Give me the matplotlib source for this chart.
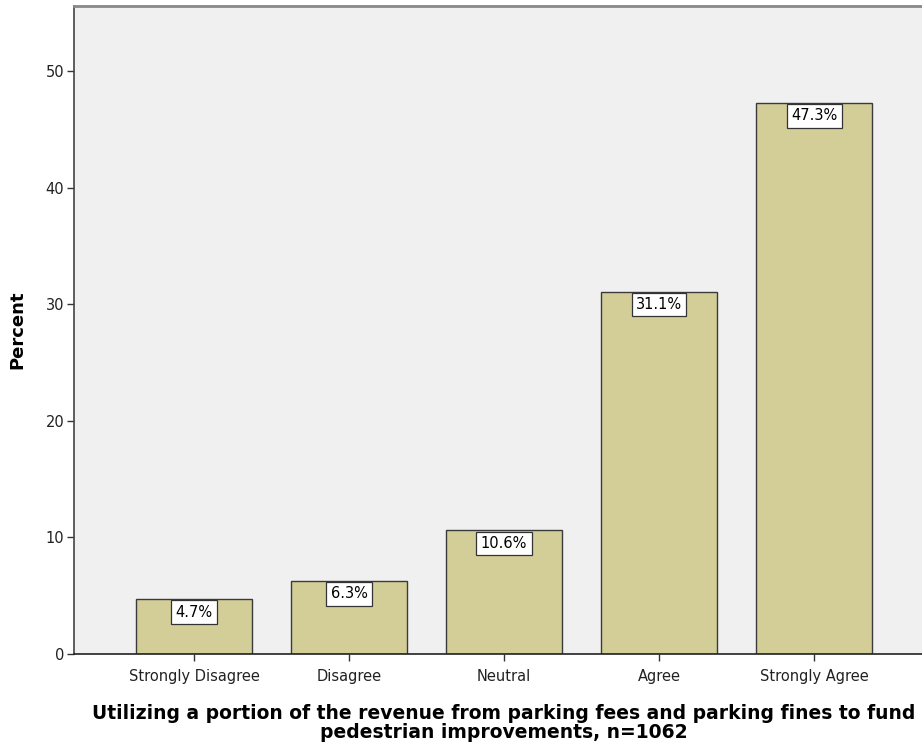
import matplotlib
matplotlib.use("Agg")
import matplotlib.pyplot as plt

categories = ["Strongly Disagree", "Disagree", "Neutral", "Agree", "Strongly Agree"]
percents = [4.7, 6.3, 10.6, 31.1, 47.3]
yticks = [0, 10, 20, 30, 40, 50]

W, H = 922, 751
fig = plt.figure(figsize=(W / 100, H / 100), dpi=100)
left, right, top, bottom = 74, 934, 6, 654
ax = fig.add_axes([left / W, 1 - bottom / H, (right - left) / W, (bottom - top) / H])
ax.set_facecolor("#f0f0f0")

x = list(range(len(categories)))
ax.bar(x, percents, width=0.75, color="#d3ce97", edgecolor="#3a3a3a", linewidth=1.0, zorder=2)

for xi, v in zip(x, percents):
    ax.annotate(f"{v}%", xy=(xi, v), xytext=(0, -4), textcoords="offset points",
                ha="center", va="top", fontsize=10.5, color="black", zorder=3,
                bbox=dict(boxstyle="square,pad=0.3", facecolor="white", edgecolor="#333333", linewidth=0.9))

ax.set_xlim(-0.774, 4.774)
ax.set_ylim(0, 55.6)
ax.set_yticks(yticks)
ax.set_xticks(x)
ax.set_xticklabels(categories, fontsize=10.5, color="#222222")
ax.tick_params(axis="y", labelsize=10.5, length=5, width=1, direction="out", pad=2, color="#333333", labelcolor="#222222")
ax.tick_params(axis="x", length=5, width=1, direction="out", pad=6, color="#333333")

ax.spines["right"].set_visible(False)
ax.spines["top"].set_color("#888888")
ax.spines["top"].set_linewidth(2)
ax.spines["left"].set_color("#444444")
ax.spines["left"].set_linewidth(1.2)
ax.spines["bottom"].set_color("#222222")
ax.spines["bottom"].set_linewidth(1.2)

ax.set_ylabel("Percent", fontsize=13, fontweight="bold", labelpad=14)
ax.set_xlabel("Utilizing a portion of the revenue from parking fees and parking fines to fund\npedestrian improvements, n=1062",
              fontsize=13.5, fontweight="bold", labelpad=14, linespacing=1.0)

fig.savefig("out.png", dpi=100)
